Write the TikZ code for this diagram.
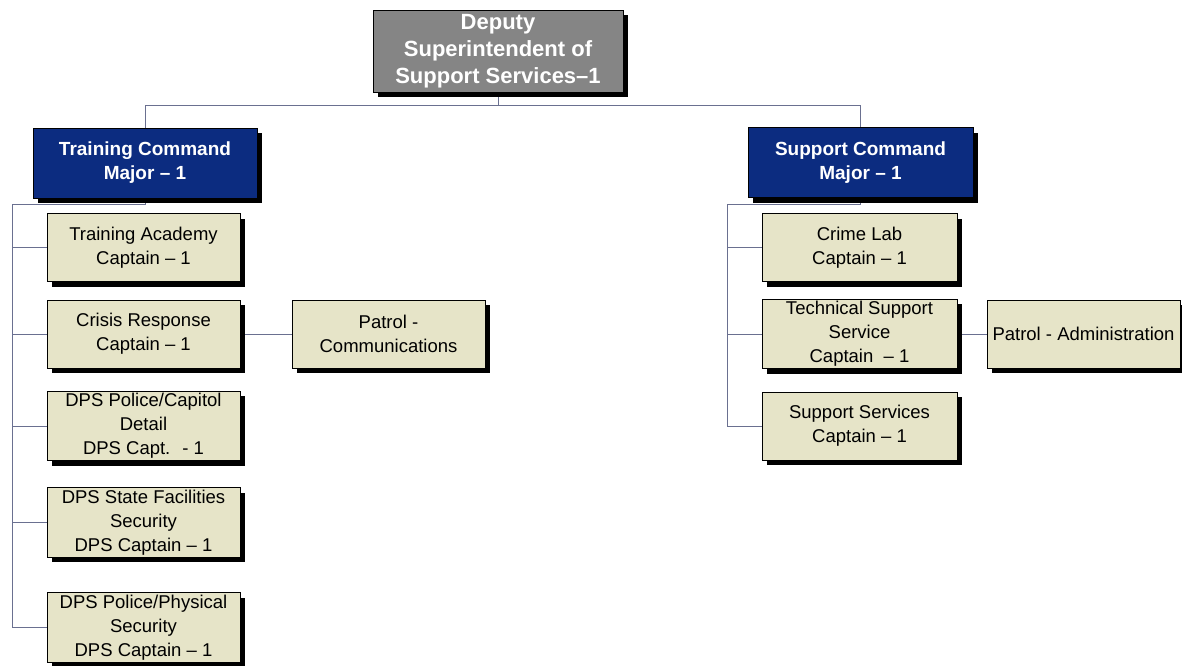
\documentclass[tikz,border=0pt]{standalone}
\usepackage{fontspec}
\setmainfont{Liberation Sans}
\usetikzlibrary{shadows,backgrounds}
\definecolor{beige}{HTML}{E6E4C8}
\definecolor{navy}{HTML}{0C2C80}
\definecolor{topgray}{HTML}{858585}
\definecolor{linecol}{HTML}{6A7090}
\begin{document}
\begin{tikzpicture}[x=1pt,y=-1pt,
  boxbase/.style={draw=black, line width=0.8pt, align=center, inner sep=2pt,
    drop shadow={shadow xshift=5pt, shadow yshift=-5pt, opacity=1, fill=black}},
  unitbox/.style={boxbase, fill=beige, minimum width=193, minimum height=68,
    font=\fontsize{18.5}{24}\selectfont},
  cmdbox/.style={boxbase, fill=navy, text=white, minimum width=224, minimum height=70,
    font=\bfseries\fontsize{19}{24}\selectfont},
  topbox/.style={boxbase, fill=topgray, text=white, minimum width=250, minimum height=82,
    font=\bfseries\fontsize{22}{27}\selectfont},
  conn/.style={draw=linecol, line width=1pt}
]
\useasboundingbox (0,0) rectangle (1182,665);

\node[topbox] (dep) at (498,51) {Deputy\\Superintendent of\\Support Services–1};

\node[cmdbox] (tc) at (145,163) {Training Command\\Major – 1};
\node[cmdbox, minimum width=225] (sc) at (860.5,162.5) {Support Command\\Major – 1};

\node[unitbox] (ta) at (143.5,247.5) {Training Academy\\Captain – 1};
\node[unitbox] (cr) at (143.5,334) {Crisis Response\\Captain – 1};
\node[unitbox] (pc) at (388.5,334) {Patrol -\\Communications};
\node[unitbox] (cap) at (143.5,426) {DPS Police/Capitol\\Detail\\DPS Capt.~ - 1};
\node[unitbox] (sf) at (143.5,522.5) {DPS State Facilities\\Security\\DPS Captain – 1};
\node[unitbox] (pp) at (143.5,627.5) {DPS Police/Physical\\Security\\DPS Captain – 1};

\node[unitbox, minimum width=195] (cl) at (859.5,247.5) {Crime Lab\\Captain – 1};
\node[unitbox, minimum width=195] (ts) at (859.5,334) {Technical Support\\Service\\Captain~ – 1};
\node[unitbox, minimum width=195] (ss) at (859.5,426) {Support Services\\Captain – 1};
\node[unitbox] (pa) at (1083.5,334) {Patrol - Administration};

\begin{scope}[on background layer]
  \fill[white] (0,0) rectangle (1182,665);
  \coordinate (hl) at (145,105);
  \coordinate (hr) at (860.5,105);
  \draw[conn] (dep.south) -- (dep.south |- hl);
  \draw[conn] (tc.north) -- (hl) -- (hr) -- (sc.north);

  \coordinate (lt) at (12,204);
  \draw[conn] (tc.south) -- (tc.south |- lt) -- (lt) |- (pp.west);
  \draw[conn] (lt |- ta.west) -- (ta.west);
  \draw[conn] (lt |- cr.west) -- (cr.west);
  \draw[conn] (lt |- cap.west) -- (cap.west);
  \draw[conn] (lt |- sf.west) -- (sf.west);
  \draw[conn] (cr.east) -- (pc.west);

  \coordinate (rt) at (727,204);
  \draw[conn] (sc.south) -- (sc.south |- rt) -- (rt) |- (ss.west);
  \draw[conn] (rt |- cl.west) -- (cl.west);
  \draw[conn] (rt |- ts.west) -- (ts.west);
  \draw[conn] (ts.east) -- (pa.west);
\end{scope}
\end{tikzpicture}
\end{document}
